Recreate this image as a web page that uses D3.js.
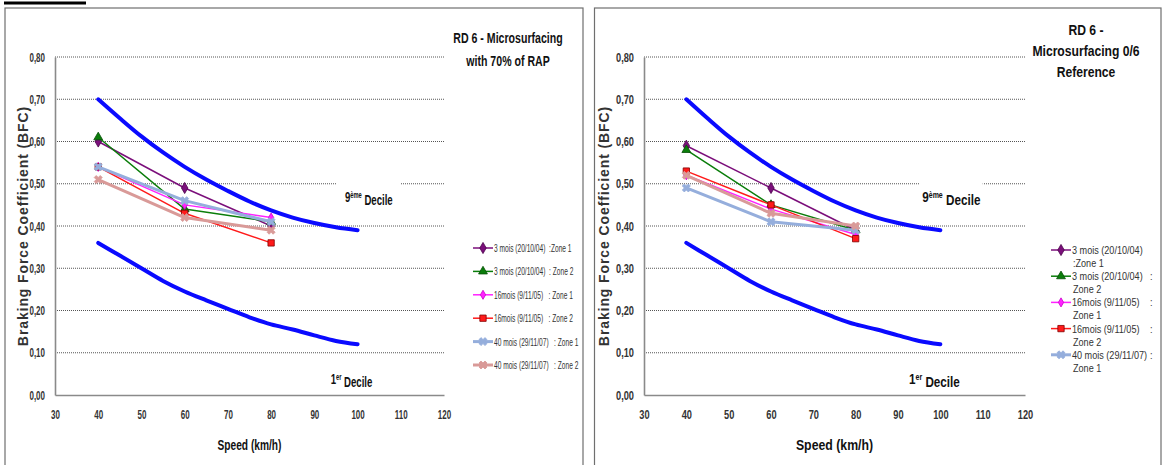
<!DOCTYPE html>
<html lang="en">
<head>
<meta charset="UTF-8">
<title>Braking Force Coefficient vs Speed</title>
<script src="https://cdn.jsdelivr.net/npm/d3@7"></script>
<style>
    body { margin: 0; background: #fff; }
    svg { display: block; font-family: "Liberation Sans", Arial, sans-serif; }
    .grid line { stroke: #555; stroke-width: 1; stroke-dasharray: 1,1; }
    .tick text { font-weight: bold; fill: #333; }
    .legend text { fill: #333; white-space: pre; }
    .title, .axis-title, .decile { font-weight: bold; fill: #111; }
    .ylab { font-weight: bold; fill: #333; }
</style>
</head>
<body>
<div id="chart"></div>
<script>
// speeds measured for every test series
const speeds = [40, 60, 80];

// reference decile curves
const decileSpeeds = [40, 45, 50, 55, 60, 65, 70, 75, 80, 85, 90, 95, 100];
const decile9 = [0.700, 0.655, 0.612, 0.574, 0.540, 0.510, 0.483, 0.458, 0.437, 0.420, 0.407, 0.397, 0.390];
const decile1 = [0.360, 0.330, 0.300, 0.270, 0.245, 0.224, 0.204, 0.184, 0.167, 0.155, 0.141, 0.128, 0.120];

const xTicks = [30, 40, 50, 60, 70, 80, 90, 100, 110, 120];
const yTicks = [0, 0.1, 0.2, 0.3, 0.4, 0.5, 0.6, 0.7, 0.8];

// RD 6 - Microsurfacing with 70% of RAP
const rap3mZ1 = [0.60, 0.49, 0.40];
const rap3mZ2 = [0.61, 0.44, 0.41];
const rap16mZ1 = [0.54, 0.45, 0.42];
const rap16mZ2 = [0.54, 0.43, 0.36];
const rap40mZ1 = [0.54, 0.46, 0.41];
const rap40mZ2 = [0.51, 0.42, 0.39];

// RD 6 - Microsurfacing 0/6 Reference
const ref3mZ1 = [0.59, 0.49, 0.39];
const ref3mZ2 = [0.58, 0.45, 0.39];
const ref16mZ1 = [0.52, 0.44, 0.38];
const ref16mZ2 = [0.53, 0.45, 0.37];
const ref40mZ1 = [0.49, 0.41, 0.39];
const ref40mZ2 = [0.52, 0.43, 0.40];

const rapLegend = ["3 mois (20/10/04)  :Zone 1", "3 mois (20/10/04)  : Zone 2", "16mois (9/11/05)   : Zone 1",
                   "16mois (9/11/05)   : Zone 2", "40 mois (29/11/07)   : Zone 1", "40 mois (29/11/07)   : Zone 2"];
const refLegend1 = ["3 mois (20/10/04)", "3 mois (20/10/04)", "16mois (9/11/05)", "16mois (9/11/05)", "40 mois (29/11/07)"];
const refLegend2 = [":Zone 1", "Zone 2", "Zone 1", "Zone 2", "Zone 1"];

// series look (same order as the value arrays)
const styles = [
    { color: "#7b0f7b", width: 1.5, symbol: d3.symbolDiamond, size: 36, stroke: "#4a004a" },
    { color: "#0a7d0a", width: 1.5, symbol: d3.symbolTriangle, size: 34, stroke: "#064f06" },
    { color: "#ff22ff", width: 1.5, symbol: d3.symbolDiamond, size: 24, stroke: "#cc00cc" },
    { color: "#ff1a1a", width: 1.5, symbol: d3.symbolSquare, size: 40, stroke: "#800000" },
    { color: "#95aedc", width: 3, symbol: d3.symbolCross, size: 40, stroke: "#95aedc", rot: 45 },
    { color: "#d99a98", width: 3, symbol: d3.symbolCross, size: 40, stroke: "#d99a98", rot: 45 }
];

const W = 1168, H = 465;
const svg = d3.select("#chart").append("svg").attr("width", W).attr("height", H);

// little black bar in the top-left corner
svg.append("rect").attr("x", 4).attr("y", 1.5).attr("width", 82).attr("height", 3).attr("fill", "#000");

// the source pictures use a condensed face: squeeze the text horizontally
function ntext(parent, X, Y, str, size, k, cls, anchor) {
    return parent.append("text")
        .attr("class", cls || null)
        .attr("transform", "translate(" + X + "," + Y + ") scale(" + k + ",1)")
        .attr("text-anchor", anchor || "start")
        .style("font-size", size + "px")
        .text(str);
}

const panels = [
    {
        frame: [5, 583], xr: [55, 444], ylabX: 23,
        title: ["RD 6 - Microsurfacing", "with 70% of RAP"], titleY: [43, 66], titleSize: 14.5, titleK: 0.73,
        series: [rap3mZ1, rap3mZ2, rap16mZ1, rap16mZ2, rap40mZ1, rap40mZ2],
        tickK: 0.64, legendSize: 10.5, legendK: 0.63, decSize: 15, decK: 0.64, speedK: 0.68, wide: false
    },
    {
        frame: [594.5, 1161], xr: [644, 1025], ylabX: 604,
        title: ["RD 6 -", "Microsurfacing 0/6", "Reference"], titleY: [35, 56, 77], titleSize: 15, titleK: 0.81,
        series: [ref3mZ1, ref3mZ2, ref16mZ1, ref16mZ2, ref40mZ1, ref40mZ2],
        tickK: 0.74, legendSize: 11.5, legendK: 0.79, decSize: 15, decK: 0.78, speedK: 0.82, wide: true
    }
];

panels.forEach(drawPanel);

function drawPanel(p) {
    const g = svg.append("g");
    const x = d3.scaleLinear().domain([30, 120]).range(p.xr);
    const y = d3.scaleLinear().domain([0, 0.8]).range([395, 57]);

    // frame (runs off the bottom of the picture)
    g.append("rect")
        .attr("x", p.frame[0]).attr("y", 8)
        .attr("width", p.frame[1] - p.frame[0]).attr("height", 480)
        .attr("fill", "none").attr("stroke", "#6f6f6f").attr("stroke-width", 1.2);

    // dotted gridlines
    g.append("g").attr("class", "grid")
        .selectAll("line")
        .data(yTicks.filter(d => d > 0))
        .join("line")
        .attr("x1", x(30)).attr("x2", x(120))
        .attr("y1", d => y(d)).attr("y2", d => y(d));

    // axes
    const yAxis = g.append("g")
        .attr("transform", "translate(" + x(30) + ",0)")
        .call(d3.axisLeft(y).tickValues(yTicks).tickSize(0).tickPadding(10)
            .tickFormat(d => d3.format(".2f")(d).replace(".", ",")));
    yAxis.selectAll("text")
        .style("font-size", "12.5px")
        .attr("x", -10 / p.tickK)
        .attr("transform", "scale(" + p.tickK + ",1)");

    const xAxis = g.append("g")
        .attr("transform", "translate(0," + y(0) + ")")
        .call(d3.axisBottom(x).tickValues(xTicks).tickSize(0).tickPadding(15));
    xAxis.selectAll("text")
        .style("font-size", "12.5px")
        .attr("transform", "scale(" + p.tickK + ",1)");

    g.selectAll(".domain").attr("stroke", "#8a8a8a").attr("stroke-width", 1.6);

    // axis titles
    ntext(g, (x(30) + x(120)) / 2, 450, "Speed (km/h)", 15, p.speedK, "axis-title", "middle");

    g.append("text").attr("class", "ylab")
        .attr("transform", "translate(" + p.ylabX + "," + y(0.4) + ") rotate(-90)")
        .attr("text-anchor", "middle").attr("dy", "0.35em")
        .style("font-size", "14px").style("letter-spacing", "0.9px")
        .text("Braking Force Coefficient (BFC)");

    // decile curves
    const curve = d3.line()
        .x((d, i) => x(decileSpeeds[i]))
        .y(d => y(d))
        .curve(d3.curveCatmullRom);

    [decile9, decile1].forEach(vals => {
        g.append("path").datum(vals)
            .attr("d", curve)
            .attr("fill", "none").attr("stroke", "#0a0aff")
            .attr("stroke-width", 4).attr("stroke-linecap", "round");
    });

    // 9eme decile label sits on a white box that hides part of the 0,50 gridline
    g.append("rect")
        .attr("x", x(95.2)).attr("y", y(0.515))
        .attr("width", x(110) - x(95.2)).attr("height", y(0.44) - y(0.515))
        .attr("fill", "#fff");

    const fs = p.decSize;
    const t9 = ntext(g, x(102.6), y(0.469) + 5, "", fs, p.decK, "decile", "middle");
    t9.append("tspan").text("9");
    t9.append("tspan").attr("dy", "-0.45em").style("font-size", (fs * 0.6) + "px").text("ème");
    t9.append("tspan").attr("dy", "0.45em").text(" Decile");

    const t1 = ntext(g, x(98.6), y(0.038) + 5, "", fs, p.decK, "decile", "middle");
    t1.append("tspan").text("1");
    t1.append("tspan").attr("dy", "-0.45em").style("font-size", (fs * 0.6) + "px").text("er");
    t1.append("tspan").attr("dy", "0.45em").text(" Decile");

    // test series
    const line = d3.line().x((d, i) => x(speeds[i])).y(d => y(d));

    p.series.forEach((vals, k) => {
        const s = styles[k];
        const sg = g.append("g");
        sg.append("path").datum(vals)
            .attr("d", line)
            .attr("fill", "none").attr("stroke", s.color)
            .attr("stroke-width", s.width).attr("stroke-linejoin", "round");
        sg.selectAll("path.mark")
            .data(vals)
            .join("path").attr("class", "mark")
            .attr("d", d3.symbol().type(s.symbol).size(s.size))
            .attr("transform", (d, i) => "translate(" + x(speeds[i]) + "," + y(d) + ") rotate(" + (s.rot || 0) + ")")
            .attr("fill", s.color).attr("stroke", s.stroke).attr("stroke-width", 0.8);
    });

    // title
    p.title.forEach((t, i) => {
        ntext(g, p.frame[1] - 75, p.titleY[i], t, p.titleSize, p.titleK, "title", "middle");
    });

    // legend
    const lx = p.frame[1] - 110;
    const legend = g.append("g").attr("class", "legend");
    const items = p.wide ? refLegend1 : rapLegend;
    const step = p.wide ? 26.2 : 23.4;
    const y0 = p.wide ? 250 : 248;

    items.forEach((label, i) => {
        const s = styles[i];
        const row = legend.append("g").attr("transform", "translate(" + lx + "," + (y0 + i * step) + ")");
        row.append("line").attr("x1", 0).attr("x2", 20)
            .attr("stroke", s.color).attr("stroke-width", s.width);
        row.append("path")
            .attr("d", d3.symbol().type(s.symbol).size(s.size))
            .attr("transform", "translate(10,0) rotate(" + (s.rot || 0) + ")")
            .attr("fill", s.color).attr("stroke", s.stroke).attr("stroke-width", 0.8);
        ntext(row, 21, 4, label, p.legendSize, p.legendK);
        if (p.wide) {
            if (i > 0) ntext(row, 99, 4, ":", p.legendSize, p.legendK);
            ntext(row, 22, 17, refLegend2[i], p.legendSize, p.legendK);
        }
    });
}
</script>
</body>
</html>
